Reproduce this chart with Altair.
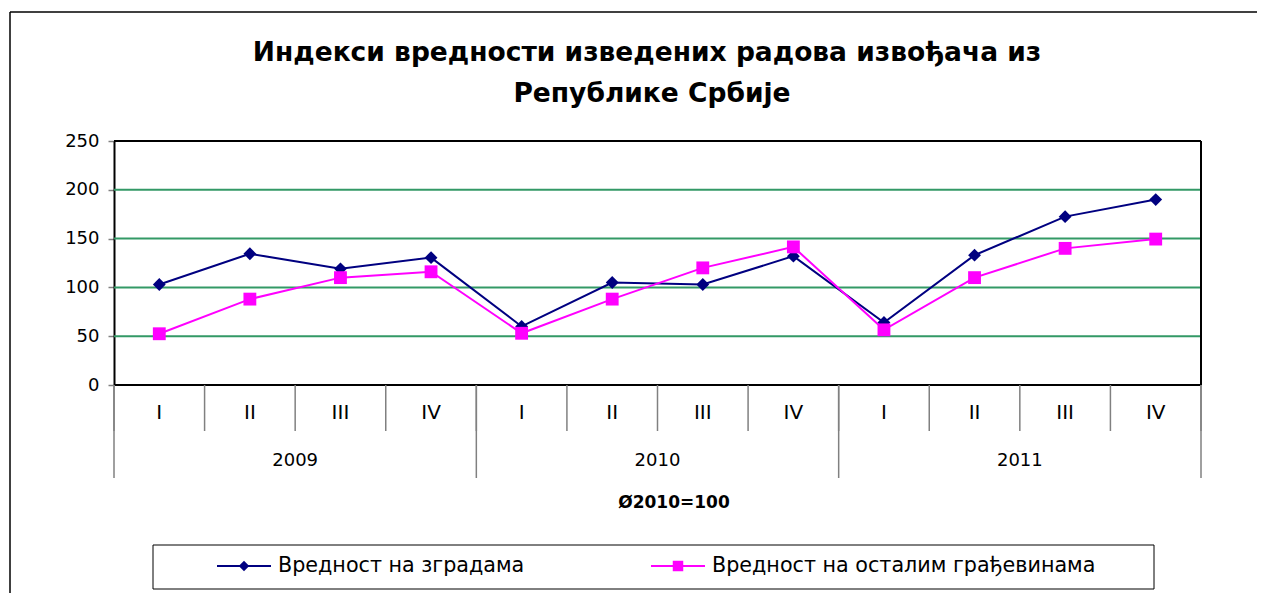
import altair as alt
import pandas as pd

# ---- data ----
years = ["2009", "2009", "2009", "2009", "2010", "2010", "2010", "2010", "2011", "2011", "2011", "2011"]
quarters = ["I", "II", "III", "IV", "I", "II", "III", "IV", "I", "II", "III", "IV"]
buildings = [103, 134.5, 119, 130.5, 60, 105, 103, 132, 64, 133, 172.5, 190]
other = [52.5, 88, 110, 116, 53, 88, 120, 141.5, 56.5, 110, 140, 149.5]
series_names = ["Вредност на зградама", "Вредност на осталим грађевинама"]
series_colors = ["#000080", "#FF00FF"]
series_shapes = ["diamond", "square"]
y_ticks = [0, 50, 100, 150, 200, 250]
grid_values = [50, 100, 150, 200]
title_lines = ["Индекси вредности изведених радова извођача из", "Републике Србије"]
subtitle = "Ø2010=100"

FONT = "DejaVu Sans"
W, H = 1087, 244

n = len(quarters)
rows = []
for i in range(n):
    rows.append({"pos": i + 0.5, "year": years[i], "quarter": quarters[i], "series": series_names[0], "value": buildings[i]})
    rows.append({"pos": i + 0.5, "year": years[i], "quarter": quarters[i], "series": series_names[1], "value": other[i]})
df = pd.DataFrame(rows)
qdf = pd.DataFrame({"pos": [i + 0.5 for i in range(n)], "quarter": quarters})
qsep = pd.DataFrame({"b": list(range(n + 1))})
ylist = sorted(set(years))
ysep = pd.DataFrame({"b": [years.index(y) for y in ylist] + [n]})
ylab = pd.DataFrame({"year": ylist, "pos": [years.index(y) + years.count(y) / 2 for y in ylist]})
gdf = pd.DataFrame({"v": grid_values})
one = pd.DataFrame({"k": [0]})

xs = alt.Scale(domain=[0, n], nice=False, zero=False)
ys = alt.Scale(domain=[0, 250], nice=False)
cs = alt.Scale(domain=series_names, range=series_colors)
ss = alt.Scale(domain=series_names, range=series_shapes)

grid = alt.Chart(gdf).mark_rule(color="#339966", strokeWidth=2).encode(
    y=alt.Y("v:Q", scale=ys), x=alt.value(0), x2=alt.value(W)
)

yaxis = alt.Chart(pd.DataFrame({"v": y_ticks})).mark_point(opacity=0).encode(
    y=alt.Y("v:Q", scale=ys, title=None,
            axis=alt.Axis(values=y_ticks, labelFontSize=18, labelColor="black", labelFont=FONT,
                          tickColor="#808080", tickSize=6, tickWidth=1.5, domainColor="black",
                          domainWidth=2, grid=False, labelPadding=9))
)

lines = alt.Chart(df).mark_line(strokeWidth=2).encode(
    x=alt.X("pos:Q", scale=xs, axis=None),
    y=alt.Y("value:Q", scale=ys),
    color=alt.Color("series:N", scale=cs, legend=None),
    detail="series:N",
)
points = alt.Chart(df).mark_point(filled=True, opacity=1, size=165).encode(
    x=alt.X("pos:Q", scale=xs, axis=None),
    y=alt.Y("value:Q", scale=ys),
    color=alt.Color("series:N", scale=cs, legend=None),
    shape=alt.Shape("series:N", scale=ss, legend=None),
)

frame_top = alt.Chart(one).mark_rule(color="black", strokeWidth=2).encode(
    x=alt.value(0), x2=alt.value(W), y=alt.value(0)
)
frame_right = alt.Chart(one).mark_rule(color="black", strokeWidth=2).encode(
    x=alt.value(W), y=alt.value(0), y2=alt.value(H)
)
frame_bottom = alt.Chart(one).mark_rule(color="black", strokeWidth=2).encode(
    x=alt.value(0), x2=alt.value(W), y=alt.value(H)
)

qrule = alt.Chart(qsep).mark_rule(color="#808080", strokeWidth=1.5).encode(
    x=alt.X("b:Q", scale=xs), y=alt.value(H), y2=alt.value(H + 46)
)
yrule = alt.Chart(ysep).mark_rule(color="#808080", strokeWidth=1.5).encode(
    x=alt.X("b:Q", scale=xs), y=alt.value(H), y2=alt.value(H + 93)
)
qtext = alt.Chart(qdf).mark_text(font=FONT, fontSize=20, baseline="middle", color="black").encode(
    x=alt.X("pos:Q", scale=xs), y=alt.value(H + 28), text="quarter:N"
)
ytext = alt.Chart(ylab).mark_text(font=FONT, fontSize=18, baseline="middle", color="black").encode(
    x=alt.X("pos:Q", scale=xs), y=alt.value(H + 76), text="year:N"
)
sub = alt.Chart(one).mark_text(text=subtitle, font=FONT, fontSize=17, fontWeight="bold",
                               baseline="middle", color="black").encode(
    x=alt.value(560), y=alt.value(H + 118)
)
t1 = alt.Chart(one).mark_text(text=title_lines[0], font=FONT, fontSize=26.5, fontWeight="bold",
                              baseline="alphabetic", color="black").encode(
    x=alt.value(533), y=alt.value(-80)
)
t2 = alt.Chart(one).mark_text(text=title_lines[1], font=FONT, fontSize=26.5, fontWeight="bold",
                              baseline="alphabetic", color="black").encode(
    x=alt.value(538), y=alt.value(-39)
)

# outer chart border (left & top)
bl = alt.Chart(one).mark_rule(color="black", strokeWidth=1.5).encode(
    x=alt.value(-104), y=alt.value(-129), y2=alt.value(452)
)
bt = alt.Chart(one).mark_rule(color="black", strokeWidth=1.5).encode(
    y=alt.value(-129), x=alt.value(-104), x2=alt.value(1143)
)

# legend
lbox = alt.Chart(one).mark_rect(fill="white", stroke="black", strokeWidth=1).encode(
    x=alt.value(39), x2=alt.value(1040), y=alt.value(404), y2=alt.value(448)
)
leg_x = [130, 564]
leg_layers = []
for i, name in enumerate(series_names):
    d = pd.DataFrame({"series": [name]})
    cx = leg_x[i]
    leg_layers.append(alt.Chart(d).mark_rule(strokeWidth=2).encode(
        x=alt.value(cx - 27), x2=alt.value(cx + 27), y=alt.value(425),
        color=alt.Color("series:N", scale=cs, legend=None)))
    leg_layers.append(alt.Chart(d).mark_point(filled=True, opacity=1, size=110).encode(
        x=alt.value(cx), y=alt.value(425),
        color=alt.Color("series:N", scale=cs, legend=None),
        shape=alt.Shape("series:N", scale=ss, legend=None)))
    leg_layers.append(alt.Chart(d).mark_text(font=FONT, fontSize=20.7, align="left", baseline="middle",
                                             color="black").encode(
        x=alt.value(cx + 34), y=alt.value(425), text="series:N"))

chart = alt.layer(
    bl, bt, grid, yaxis, lines, points, frame_top, frame_right, frame_bottom,
    qrule, yrule, qtext, ytext, sub, t1, t2, lbox, *leg_layers
).properties(
    width=W, height=H, padding={"left": 1, "top": 3, "right": 0, "bottom": 0}
).configure(font=FONT).configure_view(stroke=None)

chart.save("out.html", embed_options={"renderer": "svg", "actions": False})
